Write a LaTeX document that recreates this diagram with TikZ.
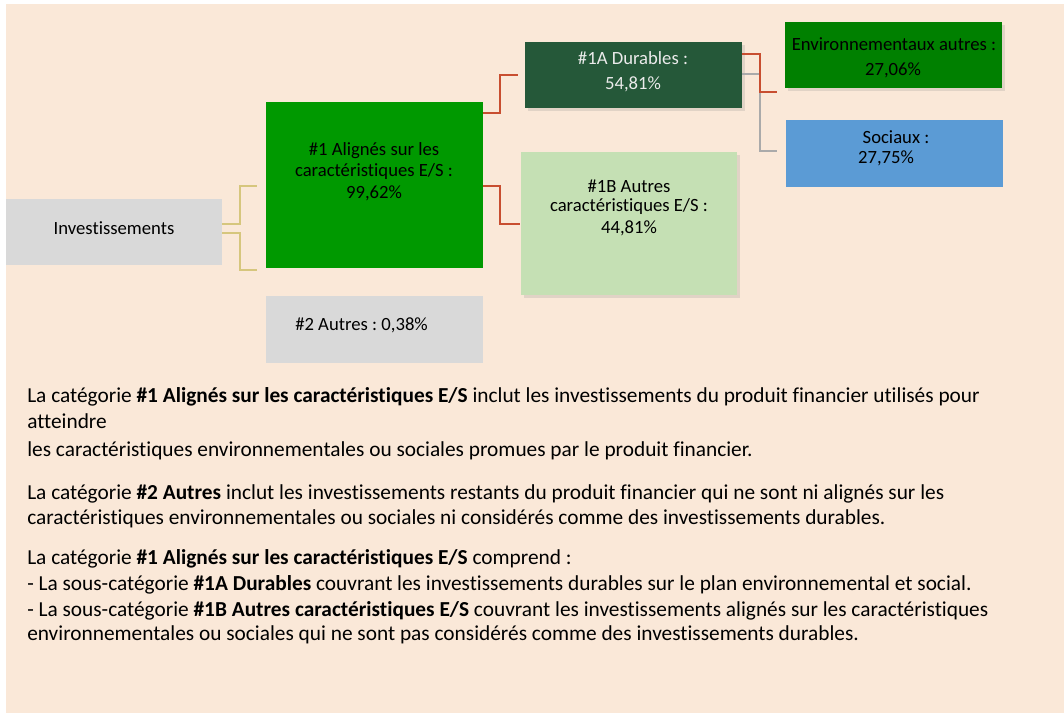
\documentclass[tikz,border=0pt]{standalone}
\usepackage{fontspec}
\setmainfont{Carlito}[Ligatures=NoCommon]
\frenchspacing
\usetikzlibrary{shadows}
\definecolor{peach}{RGB}{250,232,216}
\definecolor{boxgray}{RGB}{217,217,217}
\definecolor{gone}{RGB}{0,153,0}
\definecolor{gdark}{RGB}{37,88,57}
\definecolor{glight}{RGB}{197,224,180}
\definecolor{genv}{RGB}{0,128,0}
\definecolor{bsoc}{RGB}{91,155,213}
\definecolor{tanline}{RGB}{214,198,125}
\definecolor{redline}{RGB}{200,78,48}
\definecolor{grayline}{RGB}{170,170,170}
\definecolor{txtwhite}{RGB}{235,235,235}
\tikzset{
  x=0.75pt, y=-0.75pt,
  boxshape/.style={draw=none, inner sep=0pt, outer sep=0pt, minimum width=#1*0.75pt, anchor=north west},
  shad/.style={drop shadow={opacity=0.2, shadow xshift=2pt, shadow yshift=-2.5pt}},
  boxtxt/.style={font=\fontsize{14}{16}\selectfont, inner sep=0pt, align=center, anchor=center},
  para/.style={font=\fontsize{16}{19}\selectfont, inner sep=0pt, anchor=base west},
  tanl/.style={draw=tanline, line width=1pt},
  redl/.style={draw=redline, line width=1.2pt},
  grayl/.style={draw=grayline, line width=1pt},
}
\begin{document}
\begin{tikzpicture}
\useasboundingbox (0,0) rectangle (1064,719);
\fill[peach] (6,4) rectangle (1064,713);

% boxes
\node[boxshape=216, minimum height=66*0.75pt, fill=boxgray] (inv) at (6,199) {};
\node[boxshape=217, minimum height=166*0.75pt, fill=gone] (a1) at (266,102) {};
\node[boxshape=217, minimum height=67*0.75pt, fill=boxgray] (a2) at (266,296) {};
\node[boxshape=217, minimum height=66*0.75pt, fill=gdark, shad] (d1) at (525,42) {};
\node[boxshape=216, minimum height=143*0.75pt, fill=glight, shad] (b1) at (521,152) {};
\node[boxshape=217, minimum height=66*0.75pt, fill=genv, shad] (env) at (785,22) {};
\node[boxshape=217, minimum height=67*0.75pt, fill=bsoc] (soc) at (786,120) {};

% texts
\node[boxtxt] (tinv) at (114,228) {Investissements};
\node[boxtxt] (ta1a) at (374,151) {\#1 Alignés sur les};
\node[boxtxt] (ta1b) at (374,172) {caractéristiques E/S :};
\node[boxtxt] (ta1c) at (374,193) {99,62\%};
\node[boxtxt, anchor=west] (ta2) at (295,325) {\#2 Autres : 0,38\%};
\node[boxtxt, text=txtwhite] (td1a) at (633,58) {\#1A Durables :};
\node[boxtxt, text=txtwhite] (td1b) at (633,84) {54,81\%};
\node[boxtxt] (tb1a) at (629,186) {\#1B Autres};
\node[boxtxt] (tb1b) at (629,207) {caractéristiques E/S :};
\node[boxtxt] (tb1c) at (629,228) {44,81\%};
\node[boxtxt] (tenva) at (894,44) {Environnementaux autres :};
\node[boxtxt] (tenvb) at (893,70) {27,06\%};
\node[boxtxt] (tsoca) at (896,137) {Sociaux :};
\node[boxtxt] (tsocb) at (886,158) {27,75\%};

% connector end points
\coordinate (ea1t) at (257,186);
\coordinate (ea1b) at (257,270);
\coordinate (eb1) at (520,224);
\coordinate (ed1) at (518,75);
\coordinate (eenv) at (777,92);
\coordinate (esoc) at (777,151);

\draw[tanl] (inv.east |- 0,224) -| (240,186) -- (ea1t);
\draw[tanl] (inv.east |- 0,233) -| (240,270) -- (ea1b);
\draw[redl] (a1.east |- 0,186) -| (500,224) -- (eb1);
\draw[redl] (a1.east |- 0,113) -| (500,75) -- (ed1);
\draw[grayl] (d1.east |- 0,74) -| (760,151) -- (esoc);
\draw[redl] (d1.east |- 0,54) -| (760,92) -- (eenv);

% paragraphs
\node[para] (p1) at (27,402) {La catégorie \textbf{\#1 Alignés sur les caractéristiques E/S} inclut les investissements du produit financier utilisés pour};
\node[para] (p2) at (27,428) {atteindre};
\node[para] (p3) at (27,456) {les caractéristiques environnementales ou sociales promues par le produit financier.};
\node[para] (p4) at (27,499) {La catégorie \textbf{\#2 Autres} inclut les investissements restants du produit financier qui ne sont ni alignés sur les};
\node[para] (p5) at (27,524) {caractéristiques environnementales ou sociales ni considérés comme des investissements durables.};
\node[para] (p6) at (27,564) {La catégorie \textbf{\#1 Alignés sur les caractéristiques E/S} comprend :};
\node[para] (p7) at (27,590) {- La sous-catégorie \textbf{\#1A Durables} couvrant les investissements durables sur le plan environnemental et social.};
\node[para] (p8) at (27,616) {- La sous-catégorie \textbf{\#1B Autres caractéristiques E/S} couvrant les investissements alignés sur les caractéristiques};
\node[para] (p9) at (27,640) {environnementales ou sociales qui ne sont pas considérés comme des investissements durables.};
\end{tikzpicture}
\end{document}
